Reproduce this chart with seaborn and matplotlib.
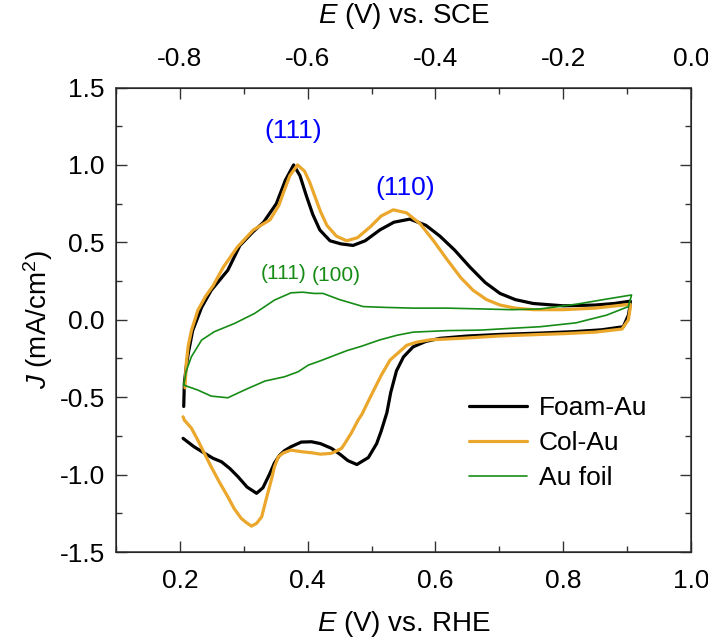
import numpy as np
import pandas as pd
import matplotlib
matplotlib.use("Agg")
import matplotlib.pyplot as plt
from matplotlib.lines import Line2D
from matplotlib.ticker import MultipleLocator
import seaborn as sns

# Foam-Au: anodic sweep (left to right) then cathodic sweep (right to left)
foam_x = [0.206, 0.207, 0.210, 0.213, 0.220, 0.234, 0.249, 0.275, 0.294, 0.315, 0.331, 0.351,
          0.365, 0.378, 0.388, 0.398, 0.408, 0.419, 0.435, 0.452, 0.471, 0.490, 0.513, 0.535,
          0.560, 0.585, 0.607, 0.630, 0.654, 0.678, 0.701, 0.725, 0.753, 0.800, 0.850, 0.880,
          0.905,
          0.905, 0.902, 0.894, 0.860, 0.816, 0.764, 0.700, 0.650, 0.607, 0.585, 0.565, 0.550,
          0.539, 0.530, 0.524, 0.515, 0.508, 0.495, 0.477, 0.463, 0.451, 0.437, 0.420, 0.406,
          0.390, 0.374, 0.364, 0.356, 0.348, 0.340, 0.330, 0.320, 0.305, 0.291, 0.278, 0.265,
          0.252, 0.239, 0.222, 0.205]
foam_y = [-0.56, -0.41, -0.30, -0.22, -0.07, 0.08, 0.19, 0.32, 0.48, 0.57, 0.63, 0.75,
          0.90, 1.00, 0.93, 0.80, 0.68, 0.58, 0.51, 0.49, 0.48, 0.51, 0.58, 0.63,
          0.65, 0.61, 0.54, 0.45, 0.34, 0.24, 0.17, 0.13, 0.105, 0.09, 0.095, 0.105,
          0.12,
          0.10, 0.03, -0.045, -0.065, -0.077, -0.086, -0.095, -0.105, -0.12, -0.14, -0.175, -0.24,
          -0.33, -0.47, -0.60, -0.72, -0.80, -0.89, -0.935, -0.91, -0.87, -0.83, -0.80, -0.788,
          -0.79, -0.82, -0.845, -0.875, -0.925, -1.00, -1.085, -1.121, -1.08, -1.014, -0.96, -0.917,
          -0.895, -0.863, -0.82, -0.766]

# Col-Au
col_x = [0.208, 0.210, 0.213, 0.218, 0.228, 0.240, 0.252, 0.268, 0.290, 0.315, 0.341, 0.355,
         0.362, 0.372, 0.384, 0.395, 0.403, 0.411, 0.420, 0.430, 0.445, 0.461, 0.478, 0.498,
         0.515, 0.534, 0.555, 0.576, 0.597, 0.618, 0.640, 0.659, 0.680, 0.701, 0.725, 0.753,
         0.800, 0.850, 0.905,
         0.905, 0.902, 0.892, 0.850, 0.800, 0.764, 0.700, 0.640, 0.591, 0.570, 0.555, 0.540,
         0.529, 0.515, 0.498, 0.485, 0.479, 0.468, 0.458, 0.453, 0.437, 0.420, 0.406, 0.390,
         0.374, 0.362, 0.354, 0.348, 0.343, 0.335, 0.328, 0.320, 0.312, 0.304, 0.296, 0.285,
         0.275, 0.262, 0.249, 0.238, 0.228, 0.218, 0.207, 0.205]
col_y = [-0.44, -0.28, -0.17, -0.07, 0.06, 0.15, 0.22, 0.34, 0.47, 0.58, 0.645, 0.74,
         0.82, 0.93, 1.00, 0.96, 0.89, 0.80, 0.70, 0.61, 0.54, 0.51, 0.53, 0.60,
         0.67, 0.71, 0.69, 0.62, 0.51, 0.39, 0.27, 0.19, 0.13, 0.095, 0.075, 0.065,
         0.065, 0.075, 0.10,
         0.08, 0.00, -0.06, -0.08, -0.09, -0.095, -0.105, -0.12, -0.13, -0.145, -0.165, -0.22,
         -0.26, -0.36, -0.50, -0.61, -0.648, -0.734, -0.80, -0.831, -0.863, -0.868, -0.859, -0.852,
         -0.842, -0.86, -0.885, -0.95, -1.036, -1.16, -1.273, -1.315, -1.333, -1.31, -1.283, -1.22,
         -1.143, -1.05, -0.95, -0.86, -0.777, -0.70, -0.648, -0.627]

# Au foil
foil_x = [0.206, 0.210, 0.218, 0.234, 0.254, 0.286, 0.317, 0.348, 0.374, 0.392, 0.410, 0.424,
          0.450, 0.487, 0.520, 0.565, 0.620, 0.670, 0.720, 0.764, 0.820, 0.870, 0.907,
          0.902, 0.868, 0.820, 0.764, 0.720, 0.670, 0.620, 0.565, 0.540, 0.513, 0.485, 0.461,
          0.420, 0.401, 0.385, 0.364, 0.333, 0.301, 0.275, 0.249, 0.228, 0.206]
foil_y = [-0.422, -0.33, -0.239, -0.131, -0.077, -0.023, 0.041, 0.127, 0.174, 0.178, 0.17, 0.17,
          0.13, 0.085, 0.08, 0.075, 0.075, 0.07, 0.065, 0.07, 0.10, 0.135, 0.16,
          0.085, 0.03, -0.02, -0.045, -0.055, -0.067, -0.07, -0.08, -0.10, -0.13, -0.17, -0.20,
          -0.265, -0.293, -0.336, -0.368, -0.396, -0.454, -0.504, -0.493, -0.454, -0.422]

series_names = ["Foam-Au", "Col-Au", "Au foil"]
series_colors = ["#000000", "#EBA72C", "#168C16"]
series_widths = [2.3, 2.3, 1.2]

sns.set_style("ticks")
plt.rcParams["font.family"] = ["Liberation Sans", "DejaVu Sans"]
plt.rcParams["mathtext.fontset"] = "custom"
plt.rcParams["mathtext.rm"] = "Liberation Sans"
plt.rcParams["mathtext.it"] = "Liberation Sans:italic"
plt.rcParams["axes.unicode_minus"] = False
plt.rcParams["text.color"] = "black"
plt.rcParams["axes.labelcolor"] = "black"
plt.rcParams["xtick.labelcolor"] = "black"
plt.rcParams["ytick.labelcolor"] = "black"

fig = plt.figure(figsize=(7.08, 6.38), dpi=100)
ax = fig.add_axes([116 / 708, 1 - 552 / 638, 575 / 708, 464.5 / 638])

frames = [pd.DataFrame({"E": foam_x, "J": foam_y}),
          pd.DataFrame({"E": col_x, "J": col_y}),
          pd.DataFrame({"E": foil_x, "J": foil_y})]
for df, c, lw in zip(frames, series_colors, series_widths):
    sns.lineplot(data=df, x="E", y="J", sort=False, estimator=None, color=c, lw=lw, ax=ax)

ax.set_xlim(0.1, 1.0)
ax.set_ylim(-1.5, 1.5)
ax.xaxis.set_major_locator(MultipleLocator(0.2))
ax.xaxis.set_minor_locator(MultipleLocator(0.1))
ax.yaxis.set_major_locator(MultipleLocator(0.5))
ax.yaxis.set_minor_locator(MultipleLocator(0.25))
ax.set_xticks([0.2, 0.4, 0.6, 0.8, 1.0])
ax.set_xticklabels(["0.2", "0.4", "0.6", "0.8", "1.0"])
ax.tick_params(which="both", direction="in", right=True, labelsize=19, color="#333333", width=1)
ax.tick_params(which="major", length=8)
ax.tick_params(which="minor", length=4)
ax.tick_params(axis="x", pad=12)
ax.tick_params(axis="y", pad=8)
for s in ax.spines.values():
    s.set_color("#333333")
    s.set_linewidth(1.1)

ax.set_xlabel(r"$E$ (V) vs. RHE", fontsize=20, labelpad=12)
ax.set_ylabel(r"$J$ (mA/cm$^2$)", fontsize=20, labelpad=3)

# top axis: SCE scale
ax2 = ax.twiny()
ax2.set_xlim(-0.9, 0.0)
ax2.xaxis.set_major_locator(MultipleLocator(0.2))
ax2.xaxis.set_minor_locator(MultipleLocator(0.1))
ax2.set_xticks([-0.8, -0.6, -0.4, -0.2, 0.0])
ax2.set_xticklabels(["-0.8", "-0.6", "-0.4", "-0.2", "0.0"])
ax2.tick_params(which="both", direction="in", labelsize=19, color="#333333", width=1, pad=12)
ax2.tick_params(which="major", length=8)
ax2.tick_params(which="minor", length=4)
ax2.set_xlabel(r"$E$ (V) vs. SCE", fontsize=20, labelpad=17)

# facet labels
ax.text(0.377, 1.22, "(111)", color="#0000FF", fontsize=19, ha="center", va="center")
ax.text(0.553, 0.85, "(110)", color="#0000FF", fontsize=19, ha="center", va="center")
ax.text(0.362, 0.30, "(111)", color="#168C16", fontsize=15, ha="center", va="center")
ax.text(0.445, 0.285, "(100)", color="#168C16", fontsize=15, ha="center", va="center")

handles = [Line2D([0], [0], color=c, lw=lw) for c, lw in zip(series_colors, series_widths)]
leg = ax.legend(handles, series_names, loc="upper left",
                bbox_to_anchor=((469 - 116) / 575, (552 - 396) / 464.5),
                frameon=False, fontsize=19, handlelength=2.2, handletextpad=0.45,
                labelspacing=0.42, borderpad=0, borderaxespad=0)

fig.savefig("out.png", dpi=100)
